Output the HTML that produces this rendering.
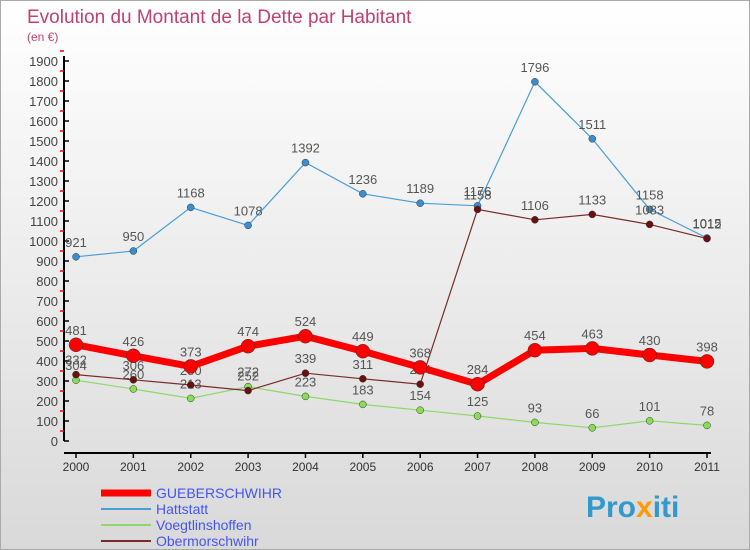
<!DOCTYPE html>
<html><head><meta charset="utf-8"><style>
body{margin:0;}
#c{width:750px;height:550px;position:relative;font-family:"Liberation Sans",sans-serif;background:linear-gradient(#ffffff,#d9d9d9);border:1px solid #aaa;box-sizing:border-box;overflow:hidden;}
</style></head><body>
<div id="c">
<svg id="s" width="750" height="550">
<text x="26" y="22" font-size="19" fill="#c04070">Evolution du Montant de la Dette par Habitant</text>
<text x="26" y="40" font-size="12" fill="#c04070">(en €)</text>
<g id="g"></g>
<text x="585" y="516" font-size="30" font-weight="bold" fill="#3399cc">Pro<tspan fill="#ff9900">x</tspan>iti</text>
</svg>
</div>
<script>
const years=['2000','2001','2002','2003','2004','2005','2006','2007','2008','2009','2010','2011'];
const yTicks=[0,100,200,300,400,500,600,700,800,900,1000,1100,1200,1300,1400,1500,1600,1700,1800,1900];
const gueber=[481,426,373,474,524,449,368,284,454,463,430,398];
const hatt=[921,950,1168,1078,1392,1236,1189,1176,1796,1511,1158,1015];
const voeg=[304,260,213,272,223,183,154,125,93,66,101,78];
const ober=[332,306,280,252,339,311,284,1158,1106,1133,1083,1012];
const NS='http://www.w3.org/2000/svg';
const g=document.getElementById('g');
const X=i=>75+i*(706-75)/11;
const Y=v=>440-v*0.2;
function el(t,a,p){const e=document.createElementNS(NS,t);for(const k in a)e.setAttribute(k,a[k]);(p||g).appendChild(e);return e;}
let a=el('line',{x1:63,y1:55,x2:63,y2:440,stroke:'#000','stroke-width':2});


a=el('line',{x1:63,y1:452,x2:710,y2:452,stroke:'#000','stroke-width':2});


yTicks.forEach(v=>{
 el('line',{x1:63,y1:Y(v),x2:68,y2:Y(v),stroke:'#000','stroke-width':1.5});
 el('line',{x1:59,y1:Y(v+50),x2:63,y2:Y(v+50),stroke:'#f00','stroke-width':1.5});
 const t=el('text',{x:57,y:Y(v)+5,'text-anchor':'end','font-size':13,fill:'#444'});t.textContent=v;
 
 
});
years.forEach((y,i)=>{
 el('line',{x1:X(i),y1:452,x2:X(i),y2:457,stroke:'#000','stroke-width':1.5});
 const t=el('text',{x:X(i),y:470,'text-anchor':'middle','font-size':12,fill:'#333'});t.textContent=y;
 
 
});
function series(d,col,w,r,fill,name){
 const p=el('polyline',{points:d.map((v,i)=>X(i)+','+Y(v)).join(' '),fill:'none',stroke:col,'stroke-width':w});
 
 
 d.forEach((v,i)=>{
  const c=el('circle',{cx:X(i),cy:Y(v),r:r,fill:fill,stroke:'#333','stroke-width':0.5});
  
  
  const t=el('text',{x:X(i),y:Y(v)-10,'text-anchor':'middle','font-size':13,fill:'#555'});t.textContent=v;
  
  
 });
}
series(hatt,'#4a9ed6',1.2,3.5,'#3a8ed0','hattstatt');
series(voeg,'#8ed86a',1.2,3.5,'#88dd55','voegtlinshoffen');
series(ober,'#7a2a2a',1.2,3.5,'#6a1010','obermorschwihr');
series(gueber,'#ff0000',7,7,'#ff0000','gueberschwihr');
const leg=[['GUEBERSCHWIHR','#ff0000',7],['Hattstatt','#4a9ed6',2],['Voegtlinshoffen','#8ed86a',2],['Obermorschwihr','#7a2a2a',2]];
leg.forEach((l,i)=>{
 const y=492+i*16;
 const ln=el('line',{x1:100,y1:y,x2:150,y2:y,stroke:l[1],'stroke-width':l[2]});
 
 
 const t=el('text',{x:155,y:y+5,'font-size':14,fill:'#4455ee'});t.textContent=l[0];
 
 
});
</script>
</body></html>
